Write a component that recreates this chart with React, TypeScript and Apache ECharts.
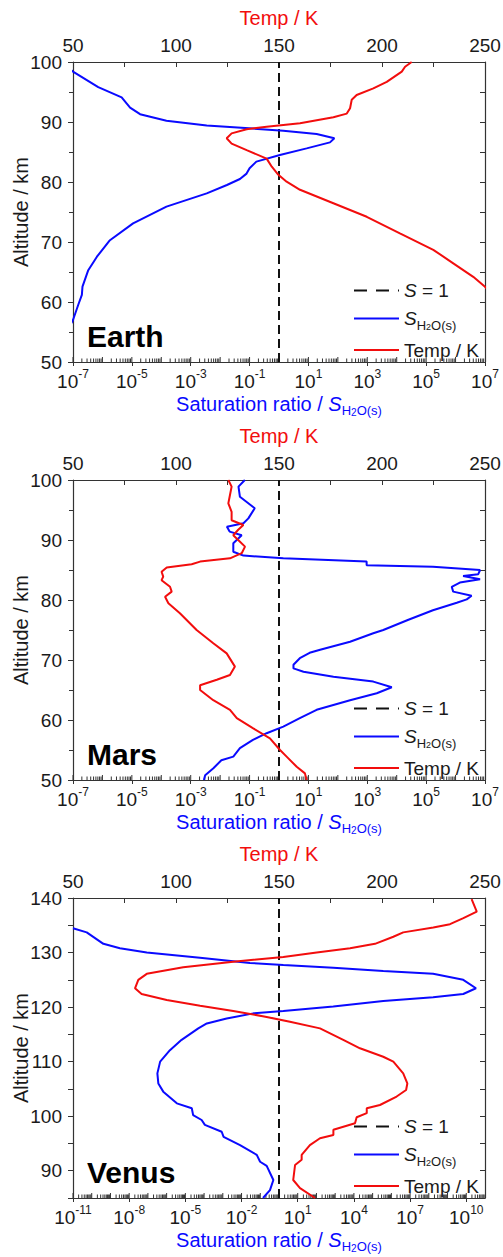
import React, { useEffect, useRef } from 'react';
import * as echarts from 'echarts';

const FONT = '"Liberation Sans", Arial, Helvetica, sans-serif';
const BLUE = '#0a0aff';
const RED = '#f20d0d';
const AXIS = '#333333';
const TXT = '#1a1a1a';

// ---------- Earth ----------
const earthSatAlt = [99.5, 98.4, 95.8, 94.1, 92.4, 91.3, 90.2, 89.4, 88.9, 88.55, 88.0, 87.3, 86.6, 85.6, 84.5, 83.4, 82.3, 81.4, 80.5, 79.5, 78.1, 75.9, 73.1, 70.3, 67.55, 65.3, 62.55, 61.2, 59.5, 57.0, 55.0];
const earthSat = [5e-8, 1.0e-7, 7.2e-7, 4.5e-6, 8.7e-6, 1.9e-5, 1.5e-4, 3.5e-3, 0.13, 1.4, 19, 76, 54, 8.7, 1.07, 0.17, 0.1, 0.079, 0.047, 0.017, 3.5e-3, 1.5e-4, 1.1e-5, 1.8e-6, 6.5e-7, 3.3e-7, 2.1e-7, 2.0e-7, 1.5e-7, 1.0e-7, 6e-8];
const earthTempAlt = [100, 99.2, 98.4, 96.7, 95.6, 94.5, 93.7, 92.3, 91.4, 90.8, 89.8, 89.2, 88.8, 88.1, 87.3, 86.4, 85.3, 83.9, 82.55, 81.2, 80.05, 78.7, 76.45, 74.2, 71.45, 68.7, 66.45, 64.2, 62.55, 61.5];
const earthTemp = [214.4, 211.2, 209.6, 202.3, 195.8, 187.7, 185.3, 184.5, 182.9, 176.4, 160.2, 144, 134.3, 127, 124.6, 127, 134.3, 144, 146.5, 149.7, 153.7, 160.2, 176.4, 192.6, 208.7, 224.9, 234.6, 244.3, 250, 253];

// ---------- Mars ----------
const marsSatAlt = [100, 98.9, 97.2, 95.3, 93.6, 92.8, 92.2, 91.4, 90.8, 89.45, 88.05, 87.4, 86.95, 86.4, 85.8, 85.55, 85.0, 84.3, 84.0, 83.45, 82.9, 82.2, 81.4, 80.7, 80.1, 79.55, 78.3, 76.7, 75.0, 74.45, 73.05, 71.7, 71.2, 70.3, 69.2, 68.6, 68.05, 67.2, 66.4, 65.45, 64.45, 63.3, 61.7, 60.3, 58.9, 57.8, 56.7, 55.3, 53.9, 53.3, 51.95, 50.8, 50.0];
const marsSat = [0.069, 0.042, 0.047, 0.15, 0.091, 0.062, 0.017, 0.021, 0.054, 0.028, 0.028, 0.062, 1.4, 950, 950, 1.7e5, 6.8e6, 5.9e6, 1.8e6, 6.8e6, 1.4e6, 7.4e5, 8.3e5, 3.5e6, 2.4e6, 1.1e6, 1.7e5, 2.5e4, 3.5e3, 1.6e3, 260, 25, 11, 5.1, 3.1, 3.1, 6.8, 71, 1.6e3, 6.8e3, 2.1e3, 260, 19, 5.1, 1.4, 0.38, 0.13, 0.047, 0.028, 0.011, 5.9e-3, 3.1e-3, 2.8e-3];
const marsTempAlt = [100, 98.9, 97.5, 96.1, 94.7, 93.3, 92.5, 91.7, 90.8, 90.0, 88.9, 87.8, 86.95, 86.4, 85.95, 85.4, 84.7, 83.9, 83.3, 82.2, 81.4, 80.55, 79.45, 77.8, 75.0, 72.8, 71.1, 68.9, 67.5, 66.7, 65.8, 65.0, 63.3, 61.7, 60.3, 58.6, 56.95, 55.0, 53.9, 52.2, 51.1, 50.0];
const marsTemp = [125.4, 127, 126.2, 125.4, 127, 127, 132.7, 130.2, 127.8, 130.2, 133.5, 131.9, 126.2, 111.7, 107.6, 95.5, 93, 93.8, 93, 97.1, 97.9, 94.7, 96.3, 101.9, 110, 118.1, 124.6, 128.6, 126.2, 119.8, 111.7, 111.7, 118.1, 126.2, 129.5, 137.5, 145.6, 150.5, 153.7, 158.6, 162.6, 163.4];

// ---------- Venus ----------
const venusSatAlt = [134.45, 133.7, 131.6, 130.8, 130.0, 129.05, 128.1, 127.7, 127.2, 126.6, 126.1, 125.0, 123.45, 122.4, 121.8, 121.1, 120.1, 119.3, 118.85, 117.9, 117.0, 116.1, 114.0, 112.1, 110.0, 107.85, 106.0, 104.5, 102.35, 101.45, 100.2, 99.3, 98.4, 97.15, 96.2, 94.7, 92.9, 91.65, 90.9, 88.3, 86.45, 85.0];
const venusSat = [1e-11, 5.4e-11, 4.2e-10, 3.2e-9, 8.7e-8, 6e-5, 0.028, 1.7, 790, 3.7e5, 1.7e8, 6.9e9, 3.3e10, 6.9e9, 1.7e8, 3.7e5, 790, 1.7, 0.043, 1.6e-3, 1.4e-4, 4.9e-5, 6.3e-6, 1.5e-6, 4.5e-7, 3.2e-7, 3.6e-7, 6.6e-7, 3.5e-6, 2.2e-5, 2.6e-5, 7.4e-5, 1.1e-4, 8.7e-4, 1.1e-3, 8.3e-3, 0.065, 0.098, 0.22, 0.5, 0.33, 0.14];
const venusTempAlt = [139.8, 137.5, 136.3, 135.2, 134.6, 133.7, 132.9, 131.6, 130.8, 130.0, 129.2, 128.3, 127.3, 126.1, 125.0, 123.45, 122.4, 121.3, 120.25, 119.3, 118.2, 117.3, 116.1, 114.0, 112.45, 110.9, 110.0, 107.85, 106.0, 104.8, 103.6, 102.05, 101.45, 100.55, 99.8, 98.7, 97.5, 96.55, 95.95, 94.7, 92.9, 92.0, 91.05, 88.3, 86.8, 85.0];
const venusTemp = [243.5, 246, 239.5, 233, 224.9, 210.3, 205.5, 196.6, 184.5, 168.3, 152.1, 127.8, 103.5, 85.8, 81.7, 80.1, 83.3, 95.5, 111.7, 127.8, 144, 155.3, 169.9, 181.2, 189.3, 200.6, 205.5, 210.3, 212.3, 211.7, 207.1, 199, 192.6, 192.6, 187.7, 186.9, 176.4, 176.4, 169.9, 165, 161, 161, 157.8, 156.9, 160.2, 167.5];

// ---------- Axes ----------
const tempMin = 50;
const tempMax = 250;
const tempStep = 50;
const legendNames = ['S = 1', 'S_H2O(s)', 'Temp / K'];

type Panel = {
  name: string; top: number;
  yMin: number; yMax: number; yStep: number; yMinor: boolean;
  xMin: number; xMax: number; xMinExp: number; xMaxExp: number; xStep: number; showMaxX: boolean;
  satAlt: number[]; sat: number[]; tempAlt: number[]; temp: number[];
};

const panels: Panel[] = [
  { name: 'Earth', top: 62, yMin: 50, yMax: 100, yStep: 10, yMinor: true, xMin: 1e-7, xMax: 1e7, xMinExp: -7, xMaxExp: 7, xStep: 2, showMaxX: true,
    satAlt: earthSatAlt, sat: earthSat, tempAlt: earthTempAlt, temp: earthTemp },
  { name: 'Mars', top: 480, yMin: 50, yMax: 100, yStep: 10, yMinor: true, xMin: 1e-7, xMax: 1e7, xMinExp: -7, xMaxExp: 7, xStep: 2, showMaxX: true,
    satAlt: marsSatAlt, sat: marsSat, tempAlt: marsTempAlt, temp: marsTemp },
  { name: 'Venus', top: 898, yMin: 85, yMax: 140, yStep: 5, yMinor: false, xMin: 1e-11, xMax: 1e11, xMinExp: -11, xMaxExp: 11, xStep: 3, showMaxX: false,
    satAlt: venusSatAlt, sat: venusSat, tempAlt: venusTempAlt, temp: venusTemp },
];

const subRich = (size: number) => ({
  i: { fontSize: size, fontStyle: 'italic', fontFamily: FONT, lineHeight: 26, verticalAlign: 'middle' },
  sub: { fontSize: Math.round(size * 0.66), fontFamily: FONT, lineHeight: 15, verticalAlign: 'bottom' },
  sub2: { fontSize: Math.round(size * 0.48), fontFamily: FONT, lineHeight: 8, verticalAlign: 'bottom' },
  n: { fontSize: size, fontFamily: FONT, lineHeight: 26, verticalAlign: 'middle' },
});

function buildOption() {
  const grid: any[] = [];
  const xAxis: any[] = [];
  const yAxis: any[] = [];
  const series: any[] = [];
  const legend: any[] = [];
  const graphic: any[] = [];

  panels.forEach((p, i) => {
    grid.push({ left: 73, right: 18, top: p.top, height: 300, containLabel: false, outerBoundsMode: 'none' });

    xAxis.push({
      type: 'log', logBase: 10, gridIndex: i, position: 'bottom',
      min: p.xMin, max: p.xMax, interval: p.xStep,
      axisLine: { show: true, onZero: false, lineStyle: { color: AXIS, width: 1.2 } },
      axisTick: { show: true, inside: false, length: 4, lineStyle: { color: AXIS } },
      splitLine: { show: false },
      axisLabel: {
        margin: 6, color: TXT, showMaxLabel: p.showMaxX, showMinLabel: true,
        formatter: (v: number) => `{b|10}{s|${Math.round(Math.log10(v))}}`,
        rich: {
          b: { fontSize: 19, fontFamily: FONT, color: TXT, lineHeight: 26, verticalAlign: 'middle' },
          s: { fontSize: 12, fontFamily: FONT, color: TXT, lineHeight: 16, verticalAlign: 'top' },
        },
      },
      name: '{n|Saturation ratio / }{i|S}{sub|H}{sub2|2}{sub|O(s)}',
      nameLocation: 'middle', nameGap: 29, nameMoveOverlap: false,
      nameTextStyle: { color: BLUE, rich: subRich(20) },
    });
    xAxis.push({
      type: 'value', gridIndex: i, position: 'top',
      min: tempMin, max: tempMax, interval: tempStep,
      axisLine: { show: true, onZero: false, lineStyle: { color: AXIS, width: 1.2 } },
      axisTick: { show: true, inside: true, length: 5, lineStyle: { color: AXIS } },
      minorTick: { show: true, splitNumber: 2, length: 5, lineStyle: { color: AXIS } },
      splitLine: { show: false },
      axisLabel: { margin: 6, color: TXT, fontSize: 19, fontFamily: FONT, lineHeight: 22 },
      name: 'Temp / K', nameLocation: 'middle', nameGap: 32, nameMoveOverlap: false,
      nameTextStyle: { color: RED, fontSize: 20, fontFamily: FONT, lineHeight: 24 },
    });

    yAxis.push({
      type: 'value', gridIndex: i, position: 'left',
      min: p.yMin, max: p.yMax, interval: p.yStep,
      axisLine: { show: true, onZero: false, lineStyle: { color: AXIS, width: 1.2 } },
      axisTick: { show: true, inside: false, length: 5, lineStyle: { color: AXIS } },
      minorTick: { show: p.yMinor, splitNumber: 2, length: 4, lineStyle: { color: AXIS } },
      splitLine: { show: false },
      axisLabel: {
        margin: 11, color: TXT, fontSize: 19, fontFamily: FONT,
        formatter: (v: number) => (v % 10 === 0 ? String(v) : ''),
      },
      name: 'Altitude / km', nameLocation: 'middle', nameGap: 40, nameMoveOverlap: false,
      nameTextStyle: { color: TXT, fontSize: 20, fontFamily: FONT, lineHeight: 24 },
    });
    yAxis.push({
      type: 'value', gridIndex: i, position: 'right',
      min: p.yMin, max: p.yMax, interval: p.yStep,
      axisLine: { show: true, onZero: false, lineStyle: { color: AXIS, width: 1.2 } },
      axisTick: { show: true, inside: true, length: 5, lineStyle: { color: AXIS } },
      minorTick: { show: p.yMinor, splitNumber: 2, length: 5, lineStyle: { color: AXIS } },
      splitLine: { show: false },
      axisLabel: { show: false },
    });

    // log minor ticks (2..9 per decade) placed through the log axis scale
    const minor: number[][] = [];
    for (let e = p.xMinExp; e < p.xMaxExp; e++) {
      for (let m = 1; m <= 9; m++) minor.push([m * Math.pow(10, e), p.yMin, m === 1 ? 1 : 0]);
    }
    series.push({
      type: 'custom', xAxisIndex: 2 * i, yAxisIndex: 2 * i, silent: true, clip: false,
      encode: { x: 0, y: 1 }, data: minor,
      renderItem: (_params: any, api: any) => {
        const pt = api.coord([api.value(0), api.value(1)]);
        const len = api.value(2) ? 5 : 3.5;
        return {
          type: 'line',
          shape: { x1: pt[0], y1: pt[1], x2: pt[0], y2: pt[1] - len },
          style: { stroke: AXIS, lineWidth: 1 },
        };
      },
    });

    series.push({
      type: 'line', name: 'S = 1', xAxisIndex: 2 * i, yAxisIndex: 2 * i,
      data: [[1, p.yMin], [1, p.yMax]], symbol: 'none',
      lineStyle: { color: '#111', width: 2, type: [9, 5] }, itemStyle: { color: '#111' },
    });
    series.push({
      type: 'line', name: 'S_H2O(s)', xAxisIndex: 2 * i, yAxisIndex: 2 * i,
      data: p.satAlt.map((a, k) => [p.sat[k], a]), symbol: 'none',
      lineStyle: { color: BLUE, width: 2 }, itemStyle: { color: BLUE },
    });
    series.push({
      type: 'line', name: 'Temp / K', xAxisIndex: 2 * i + 1, yAxisIndex: 2 * i,
      data: p.tempAlt.map((a, k) => [p.temp[k], a]), symbol: 'none',
      lineStyle: { color: RED, width: 2 }, itemStyle: { color: RED },
    });

    legend.push({
      orient: 'vertical', left: 353, top: p.top + 219, padding: 0,
      itemWidth: 45, itemHeight: 14, itemGap: 9,
      selectedMode: false,
      itemStyle: { opacity: 0 },
      data: [
        { name: legendNames[0], lineStyle: { type: [13, 9] } },
        { name: legendNames[1] },
        { name: legendNames[2] },
      ],
      formatter: (name: string) => {
        if (name === 'S = 1') return '{i|S}{n| = 1}';
        if (name === 'S_H2O(s)') return '{i|S}{sub|H}{sub2|2}{sub|O(s)}';
        return '{n|Temp / K}';
      },
      textStyle: { color: TXT, fontSize: 19, fontFamily: FONT, rich: subRich(19) },
    });

    graphic.push({
      type: 'text', x: 87, y: p.top + 274,
      style: { text: p.name, fontSize: 30, fontWeight: 'bold', fontFamily: FONT, fill: '#000', verticalAlign: 'middle' },
    });
  });

  return { animation: false, backgroundColor: '#ffffff', grid, xAxis, yAxis, series, legend, graphic };
}

export default function App() {
  const ref = useRef<HTMLDivElement>(null);
  useEffect(() => {
    document.body.style.margin = '0';
    if (!ref.current) return;
    const chart = echarts.init(ref.current, undefined, { renderer: 'svg' });
    chart.setOption(buildOption() as any);
    return () => chart.dispose();
  }, []);
  return <div ref={ref} style={{ width: 503, height: 1257, background: '#fff' }} />;
}
